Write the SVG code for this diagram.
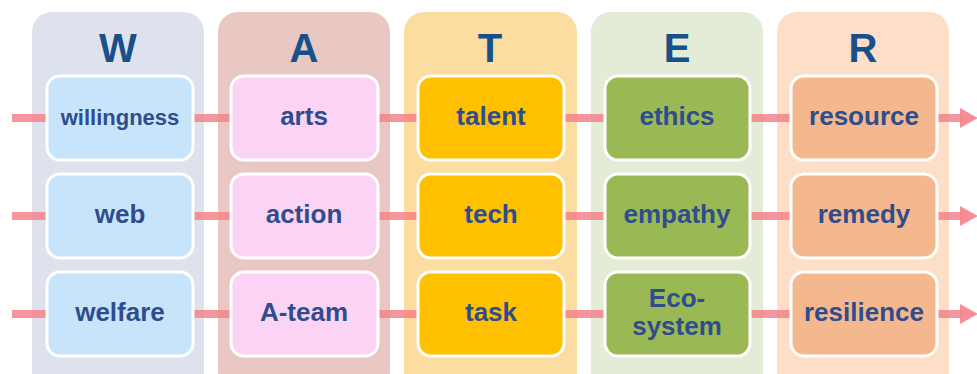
<svg xmlns="http://www.w3.org/2000/svg" width="977" height="374" viewBox="0 0 977 374">
<defs>
<style>
.panel{stroke:none}
.hdr{font-family:"Liberation Sans",Arial,sans-serif;font-weight:bold;font-size:40px;fill:#17508A;text-anchor:middle}
.box{stroke:#FFFFFF;stroke-width:3}
.lbl{font-family:"Liberation Sans",Arial,sans-serif;font-weight:bold;font-size:26px;fill:#2F4D8C;text-anchor:middle}
.conn{stroke:#F4838A;stroke-width:8;stroke-opacity:0.85;fill:none}
</style>
<marker id="ah" markerUnits="userSpaceOnUse" markerWidth="20" markerHeight="22" refX="2" refY="11" orient="auto">
<path d="M0,1 L18,11 L0,21 z" fill="#F4838A" fill-opacity="0.9"/>
</marker>
</defs>
<rect width="977" height="374" fill="#FFFFFF"/>
<g id="col-W"><rect class="panel" x="32" y="12" width="172" height="380" rx="20" fill="#DDE2EC"/><text class="hdr" x="118" y="62">W</text></g>
<g id="col-A"><rect class="panel" x="218" y="12" width="172" height="380" rx="20" fill="#E9C8C3"/><text class="hdr" x="304" y="62">A</text></g>
<g id="col-T"><rect class="panel" x="404" y="12" width="173" height="380" rx="20" fill="#FBDDA2"/><text class="hdr" x="490" y="62">T</text></g>
<g id="col-E"><rect class="panel" x="591" y="12" width="172" height="380" rx="20" fill="#E3ECD6"/><text class="hdr" x="677" y="62">E</text></g>
<g id="col-R"><rect class="panel" x="777" y="12" width="172" height="380" rx="20" fill="#FDDEC8"/><text class="hdr" x="863" y="62">R</text></g>
<g id="connectors">
<line class="conn" x1="12" y1="118" x2="962" y2="118" marker-end="url(#ah)"/>
<line class="conn" x1="12" y1="216" x2="962" y2="216" marker-end="url(#ah)"/>
<line class="conn" x1="12" y1="314" x2="962" y2="314" marker-end="url(#ah)"/>
</g>
<g id="willingness"><rect class="box" x="47" y="76" width="146" height="84" rx="13" fill="#C8E4FA"/><text class="lbl" x="120" y="125" style="font-size:22px">willingness</text></g>
<g id="web"><rect class="box" x="47" y="174" width="146" height="84" rx="13" fill="#C8E4FA"/><text class="lbl" x="120" y="223">web</text></g>
<g id="welfare"><rect class="box" x="47" y="272" width="146" height="84" rx="13" fill="#C8E4FA"/><text class="lbl" x="120" y="321">welfare</text></g>
<g id="arts"><rect class="box" x="231" y="76" width="147" height="84" rx="13" fill="#FBD3F5"/><text class="lbl" x="304" y="125">arts</text></g>
<g id="action"><rect class="box" x="231" y="174" width="147" height="84" rx="13" fill="#FBD3F5"/><text class="lbl" x="304" y="223">action</text></g>
<g id="a-team"><rect class="box" x="231" y="272" width="147" height="84" rx="13" fill="#FBD3F5"/><text class="lbl" x="304" y="321">A-team</text></g>
<g id="talent"><rect class="box" x="418" y="76" width="146" height="84" rx="13" fill="#FFC000"/><text class="lbl" x="491" y="125">talent</text></g>
<g id="tech"><rect class="box" x="418" y="174" width="146" height="84" rx="13" fill="#FFC000"/><text class="lbl" x="491" y="223">tech</text></g>
<g id="task"><rect class="box" x="418" y="272" width="146" height="84" rx="13" fill="#FFC000"/><text class="lbl" x="491" y="321">task</text></g>
<g id="ethics"><rect class="box" x="605" y="76" width="145" height="84" rx="13" fill="#9AB955"/><text class="lbl" x="677" y="125">ethics</text></g>
<g id="empathy"><rect class="box" x="605" y="174" width="145" height="84" rx="13" fill="#9AB955"/><text class="lbl" x="677" y="223">empathy</text></g>
<g id="ecosystem"><rect class="box" x="605" y="272" width="145" height="84" rx="13" fill="#9AB955"/><text class="lbl" x="677" y="307">Eco-</text><text class="lbl" x="677" y="335">system</text></g>
<g id="resource"><rect class="box" x="791" y="76" width="146" height="84" rx="13" fill="#F5B88E"/><text class="lbl" x="864" y="125">resource</text></g>
<g id="remedy"><rect class="box" x="791" y="174" width="146" height="84" rx="13" fill="#F5B88E"/><text class="lbl" x="864" y="223">remedy</text></g>
<g id="resilience"><rect class="box" x="791" y="272" width="146" height="84" rx="13" fill="#F5B88E"/><text class="lbl" x="864" y="321">resilience</text></g>
</svg>
